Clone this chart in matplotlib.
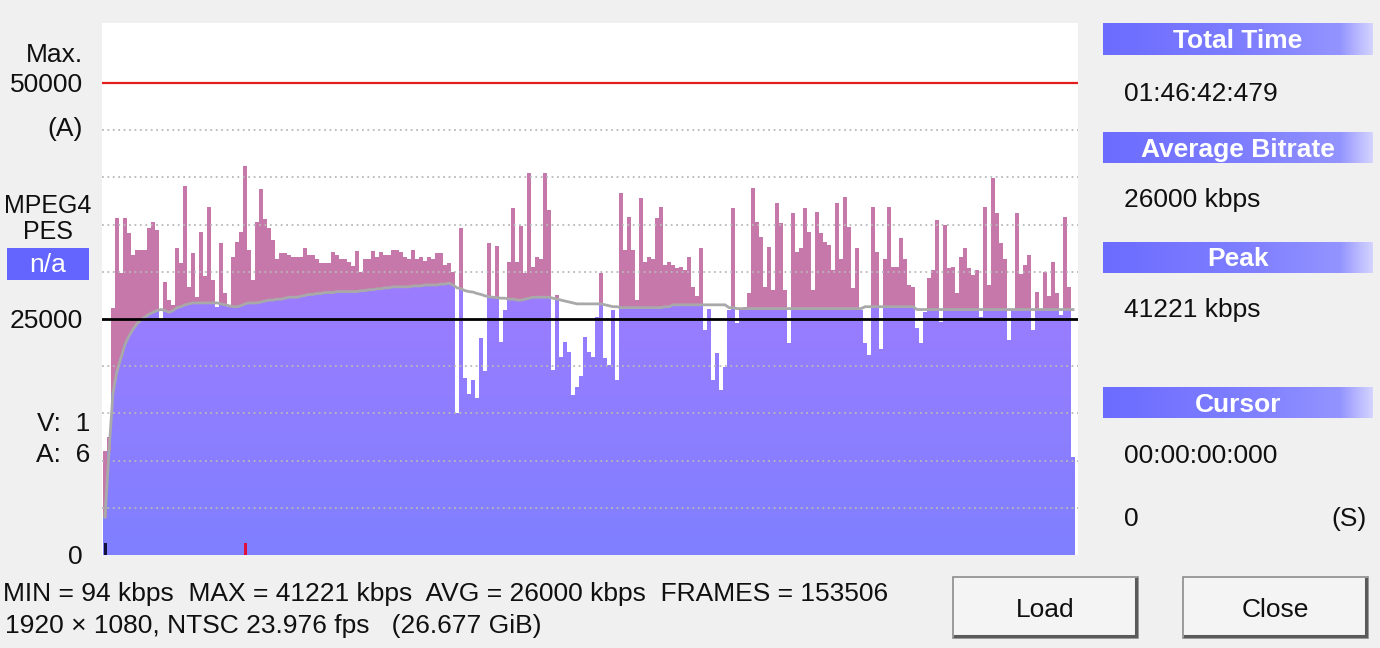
import numpy as np
import matplotlib.pyplot as plt
from matplotlib.colors import LinearSegmentedColormap
from matplotlib.patches import Rectangle
from matplotlib.path import Path
from matplotlib.lines import Line2D

plt.rcParams['font.family'] = ['Liberation Sans', 'DejaVu Sans']

# bitrate per time slot (kbps)
bitrate = [
    11000, 12500, 26200, 35700, 29900, 35700, 34100, 31800, 32300, 32300,
    32300, 34600, 35300, 34400, 24900, 28900, 27000, 26500, 32500, 30900,
    39100, 28400, 32000, 27300, 34200, 29500, 36900, 29100, 26300, 33000,
    27700, 26300, 31600, 33200, 34200, 41200, 32300, 29100, 35300, 38800,
    35600, 34600, 33400, 31300, 32000, 32000, 31800, 31600, 31600, 31600,
    32500, 31800, 31800, 31300, 30900, 30900, 30900, 32100, 31800, 31300,
    31300, 31000,
    30600, 32200, 30000, 31400, 31400, 32200, 31600, 32100, 31800, 31800,
    32300, 32300, 32100, 31600, 31400, 32300, 31300, 31600, 31100, 31600,
    31300, 32000, 32000, 30700, 30900, 30000, 15000, 34600, 18700, 17100,
    18500, 16600, 23000, 19500, 33000, 27300, 32700, 22600, 25900, 31000,
    36800, 31000, 34900, 29900, 40500, 30500, 31600, 31400, 40500, 36500,
    19600, 27500, 21000, 22600, 21500, 16900, 17800, 19000, 23100, 21500,
    21000,
    25200, 29900, 20900, 20100, 25900, 18500, 38300, 32300, 35800, 32300,
    27000, 37800, 31000, 31600, 31400, 35700, 36900, 30700, 31000, 30700,
    30400, 30500, 30200, 31600, 28400, 27400, 32500, 23800, 26100, 18500,
    21400, 17500, 19900, 25900, 36800, 24600, 26100, 26300, 27700, 38900,
    35300, 33700, 28400, 32600, 28100, 37300, 35200, 28100, 22500, 36200,
    32100, 32500, 36800, 34200, 28100, 36300, 34100, 33200, 32800, 30200,
    37300,
    31300, 37900, 34700, 28300, 32500, 26000, 22500, 21200, 36900, 32100,
    21800, 31400, 36900, 30500, 30500, 33600, 31400, 28600, 28400, 24000,
    22500, 25700, 29300, 30200, 35500, 24700, 35000, 30400, 30500, 27700,
    31600, 32500, 30400, 29700, 30200, 25200, 36900, 28600, 39900, 36200,
    33000, 31300, 22800, 26100, 36200, 29800, 30700, 31800, 23800, 27900,
    25900, 30000, 27400, 31000, 27700, 25400, 35800, 28400, 10400,
]

# running average (grey curve), one value per slot
running_avg = [
    4000, 11000, 17200, 19500, 20900, 22300, 23200, 23900, 24500, 24900,
    25200, 25500, 25700, 25900, 26000, 25900, 25700, 25900, 26200, 26300,
    26500, 26600, 26700, 26700, 26700, 26700, 26700, 26700, 26700, 26600,
    26500, 26400, 26300, 26300, 26400, 26600, 26700, 26700, 26700, 26800,
    26900, 27000, 27000, 27100, 27100, 27200, 27300, 27300, 27300, 27400,
    27500, 27600, 27600, 27700, 27700, 27800, 27800, 27800, 27900, 27900,
    27900, 27900, 27900, 27900, 28000, 28000, 28100, 28100, 28200, 28200,
    28300, 28300, 28400, 28400, 28400, 28400, 28400, 28500, 28500, 28500,
    28600, 28600, 28600, 28600, 28700, 28700, 28800, 28600, 28300, 28200,
    28000, 27900, 27850, 27700, 27600, 27450, 27350, 27300, 27250, 27200,
    27200, 27100, 27100, 27000, 27000, 27100, 27200, 27300, 27300, 27300,
    27300, 27300, 27200, 27100, 27000, 26900, 26800, 26700, 26600, 26600,
    26600, 26600, 26600, 26600, 26600, 26500, 26400, 26300, 26300, 26200,
    26200, 26200, 26200, 26200, 26200, 26200, 26200, 26200, 26200, 26200,
    26300, 26300, 26500, 26500, 26500, 26500, 26500, 26500, 26500, 26500,
    26500, 26500, 26500, 26500, 26500, 26500, 26200, 26200, 26100, 26100,
    26100, 26100, 26100, 26100, 26100, 26100, 26100, 26100, 26100, 26100,
    26100, 26100, 26100, 26100, 26100, 26100, 26100, 26100, 26100, 26100,
    26100, 26100, 26100, 26100, 26100, 26100, 26100, 26100, 26100, 26100,
    26300, 26300, 26300, 26300, 26300, 26300, 26300, 26300, 26300, 26300,
    26300, 26300, 26300, 26000, 26000, 26000, 26000, 26000, 26000, 26000,
    26000, 26000, 26000, 26000, 26000, 26000, 26000, 26000, 26000, 26000,
    26000, 26000, 26000, 26000, 26000, 26000, 26000, 26000, 26000, 26000,
    26000, 26000, 26000, 26000, 26000, 26000, 26000, 26000, 26000, 26000,
    26000, 26000, 26000,
]

grid_levels = [5000, 10000, 15000, 20000, 30000, 35000, 40000, 45000]
y_ticks = [0, 25000, 50000]
y_tick_labels = ['0', '25000', '50000']
max_level = 50000
ref_level = 25000
y_top = 56350
cursor_index = 0
peak_index = int(np.argmax(bitrate))

W, H = 1380, 648
TXT = '#101010'
FS = 19


def fx(x):
    return x / W


def fy(y):
    return 1 - y / H


fig = plt.figure(figsize=(W / 100, H / 100), dpi=100, facecolor='#f0f0f0')

# ---- main graph ----
ax = fig.add_axes([fx(102), fy(555), (1078 - 102) / W, (555 - 23) / H])
ax.set_facecolor('white')

n = len(bitrate)
rate = np.array(bitrate, float)
avg = np.array(running_avg, float)
lower = np.minimum(rate, avg)
edges = np.arange(n + 1)
lo = np.append(lower, lower[-1])
hi = np.append(rate, rate[-1])

# purple part (below running average) with vertical gradient
base = ax.fill_between(edges, 0, lo, step='post', facecolor='none', edgecolor='none')
clip = Path.make_compound_path(*base.get_paths())
grad = np.linspace(0, 1, 256).reshape(-1, 1)
cmap = LinearSegmentedColormap.from_list('bv', ['#7f80ff', '#9c7cff'])
im = ax.imshow(grad, cmap=cmap, origin='lower', aspect='auto',
               extent=[0, n, 0, lower.max()], zorder=1)
im.set_clip_path(clip, transform=ax.transData)

# pink part (above running average)
ax.fill_between(edges, lo, hi, step='post', facecolor='#c778aa',
                edgecolor='none', lw=0, antialiased=False, zorder=1.5)

for g in grid_levels:
    ax.axhline(g, color='#b9b9b9', lw=1.3, ls=(0, (1, 2)), zorder=2.5)

ax.plot(np.arange(n) + 0.5, avg, color='#a9a9a9', lw=2, zorder=3)
ax.axhline(max_level, color='#e41c1c', lw=1.6, zorder=4)
ax.axhline(ref_level, color='black', lw=2, zorder=4)

# cursor / peak markers at the bottom
ax.bar([cursor_index + 0.6], [1250], width=0.7, color='#101038', zorder=5)
ax.bar([peak_index + 0.6], [1250], width=0.7, color='#e0103a', zorder=5)

ax.set_xlim(-0.25, n + 0.75)
ax.set_ylim(0, y_top)
ax.set_xticks([])
ax.set_yticks(y_ticks)
ax.set_yticklabels(y_tick_labels)
ax.tick_params(axis='y', length=0, pad=13.7, labelsize=FS, labelcolor=TXT)
for s in ax.spines.values():
    s.set_visible(False)

# ---- left labels ----
fig.text(fx(83), fy(62), 'Max.', ha='right', va='baseline', fontsize=FS, color=TXT)
fig.text(fx(83), fy(136), '(A)', ha='right', va='baseline', fontsize=FS, color=TXT)
fig.text(fx(48), fy(213), 'MPEG4', ha='center', va='baseline', fontsize=FS - 1, color=TXT)
fig.text(fx(48), fy(239), 'PES', ha='center', va='baseline', fontsize=FS - 1, color=TXT)
fig.add_artist(Rectangle((fx(7), fy(280)), (89 - 7) / W, (280 - 248) / H,
                         transform=fig.transFigure, facecolor='#6464ff', edgecolor='none'))
fig.text(fx(48), fy(272), 'n/a', ha='center', va='baseline', fontsize=FS, color='white')
fig.text(fx(90), fy(431), 'V:  1', ha='right', va='baseline', fontsize=FS, color=TXT)
fig.text(fx(90), fy(462), 'A:  6', ha='right', va='baseline', fontsize=FS, color=TXT)

# ---- right info panel ----
hdr_cmap = LinearSegmentedColormap.from_list(
    'hdr', [(0, '#6c6cff'), (0.55, '#7f7fff'), (0.88, '#9494ff'), (1.0, '#d4d4ff')])
headers = [('Total Time', 23, 55), ('Average Bitrate', 132, 163),
           ('Peak', 242, 273), ('Cursor', 387, 418)]
for label, top, bot in headers:
    hax = fig.add_axes([fx(1103), fy(bot), (1373 - 1103) / W, (bot - top) / H])
    hax.imshow(np.linspace(0, 1, 256).reshape(1, -1), cmap=hdr_cmap, aspect='auto')
    hax.axis('off')
    fig.text(fx(1238), fy((top + bot) / 2 + 9), label, ha='center', va='baseline',
             fontsize=FS, fontweight='bold', color='white')

fig.text(fx(1124), fy(101), '01:46:42:479', ha='left', va='baseline', fontsize=FS, color=TXT)
fig.text(fx(1124), fy(207), '26000 kbps', ha='left', va='baseline', fontsize=FS, color=TXT)
fig.text(fx(1124), fy(317), '41221 kbps', ha='left', va='baseline', fontsize=FS, color=TXT)
fig.text(fx(1124), fy(463), '00:00:00:000', ha='left', va='baseline', fontsize=FS, color=TXT)
fig.text(fx(1124), fy(526), '0', ha='left', va='baseline', fontsize=FS, color=TXT)
fig.text(fx(1367), fy(526), '(S)', ha='right', va='baseline', fontsize=FS, color=TXT)

# ---- buttons ----
for label, x0, x1 in [('Load', 953, 1138), ('Close', 1183, 1368)]:
    y0, y1 = 577, 638
    fig.add_artist(Rectangle((fx(x0), fy(y1)), (x1 - x0) / W, (y1 - y0) / H,
                             transform=fig.transFigure, facecolor='#f4f4f4',
                             edgecolor='#8c8c8c', lw=1.2))
    fig.add_artist(Line2D([fx(x1 - 2), fx(x1 - 2)], [fy(y0 + 2), fy(y1 - 2)],
                          transform=fig.transFigure, color='#5a5a5a', lw=2.2))
    fig.add_artist(Line2D([fx(x0 + 2), fx(x1 - 2)], [fy(y1 - 2), fy(y1 - 2)],
                          transform=fig.transFigure, color='#5a5a5a', lw=2.2))
    fig.text(fx((x0 + x1) / 2), fy(617), label, ha='center', va='baseline',
             fontsize=FS, color=TXT)

# ---- bottom summary ----
fig.text(fx(3), fy(601), 'MIN = 94 kbps  MAX = 41221 kbps  AVG = 26000 kbps  FRAMES = 153506',
         ha='left', va='baseline', fontsize=FS, color=TXT)
fig.text(fx(5), fy(633), '1920 \u00d7 1080, NTSC 23.976 fps   (26.677 GiB)',
         ha='left', va='baseline', fontsize=FS, color=TXT)

fig.savefig('out.png', dpi=100, facecolor=fig.get_facecolor())
